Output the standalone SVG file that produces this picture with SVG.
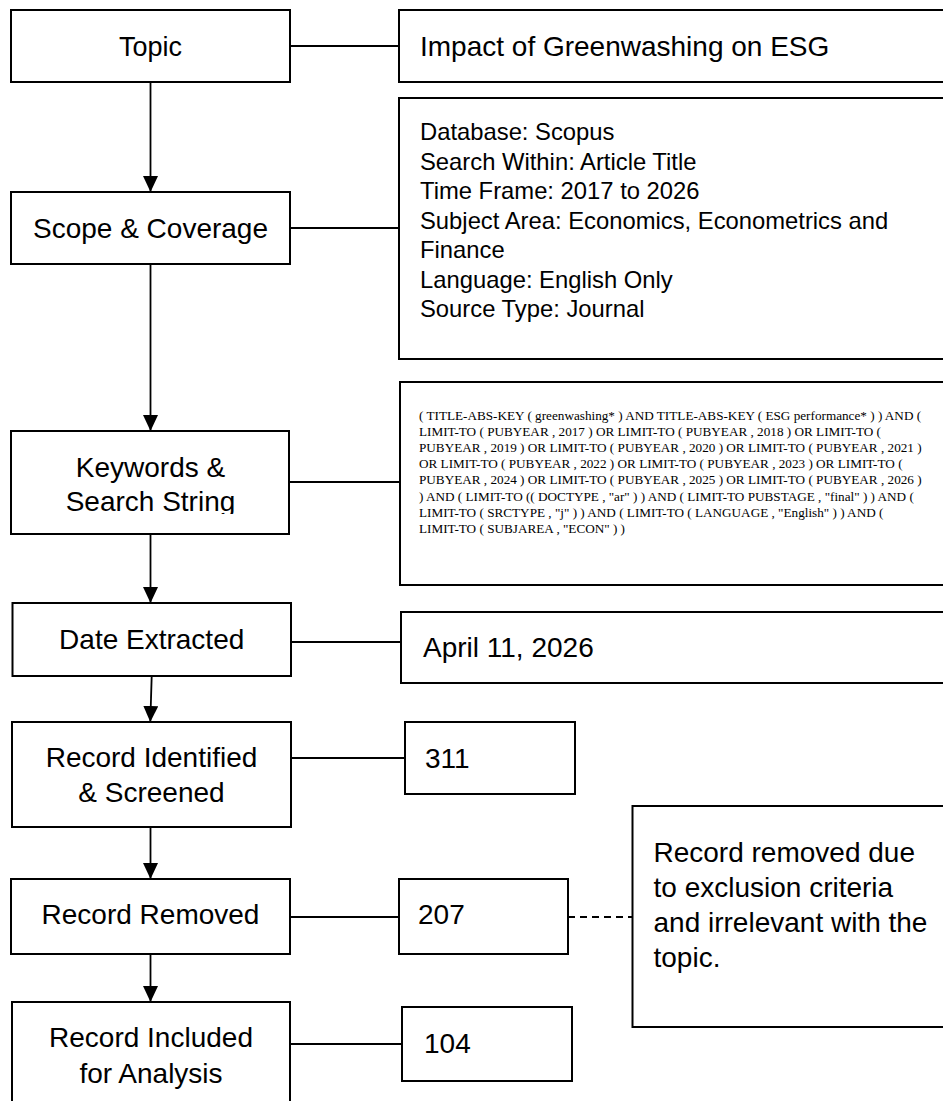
<svg xmlns="http://www.w3.org/2000/svg" width="943" height="1101" viewBox="0 0 943 1101">
<style>
  .box { fill: #ffffff; stroke: #000000; stroke-width: 2; }
  .lbl { font-family: "Liberation Sans", Arial, sans-serif; font-size: 28px; fill: #000000; }
  .mid { text-anchor: middle; }
  .det { font-family: "Liberation Sans", Arial, sans-serif; font-size: 23.8px; fill: #000000; }
  .qry { font-family: "Liberation Serif", "Times New Roman", serif; font-size: 13.2px; fill: #000000; }
  .conn { fill: none; stroke: #000000; stroke-width: 1.8; }
  .dash { stroke-dasharray: 7 5; }
</style>
<defs>
  <marker id="arrow" markerUnits="userSpaceOnUse" markerWidth="16" markerHeight="15" refX="16" refY="7.5" orient="auto">
    <path d="M0,0 L16,7.5 L0,15 z" fill="#000000"/>
  </marker>
  <clipPath id="kwclip">
    <rect x="12" y="432" width="276" height="82"/>
  </clipPath>
</defs>
<rect x="0" y="0" width="943" height="1101" fill="#ffffff"/>

<g id="connectors">
  <line class="conn" x1="150.5" y1="82" x2="150.5" y2="192" marker-end="url(#arrow)"/>
  <line class="conn" x1="150.5" y1="264" x2="150.5" y2="431" marker-end="url(#arrow)"/>
  <line class="conn" x1="150.5" y1="534" x2="150.5" y2="603" marker-end="url(#arrow)"/>
  <line class="conn" x1="151.7" y1="676" x2="150.3" y2="722" marker-end="url(#arrow)"/>
  <line class="conn" x1="150.5" y1="827" x2="150.5" y2="879" marker-end="url(#arrow)"/>
  <line class="conn" x1="150.5" y1="954" x2="150.5" y2="1002" marker-end="url(#arrow)"/>
  <line class="conn" x1="290" y1="46" x2="399" y2="46"/>
  <line class="conn" x1="290" y1="228" x2="399" y2="228"/>
  <line class="conn" x1="289" y1="482" x2="400" y2="482"/>
  <line class="conn" x1="291" y1="642" x2="401" y2="642"/>
  <line class="conn" x1="291" y1="758" x2="405" y2="758"/>
  <line class="conn" x1="290" y1="917" x2="399" y2="917"/>
  <line class="conn dash" x1="568" y1="917" x2="632.5" y2="917"/>
  <line class="conn" x1="290" y1="1044" x2="402" y2="1044"/>
</g>

<g id="topic">
  <rect class="box" x="11" y="10" width="279" height="72"/>
  <text class="lbl mid" x="150.5" y="56" style="font-size:27px">Topic</text>
</g>
<g id="topic-value">
  <rect class="box" x="399" y="10" width="560" height="72"/>
  <text class="lbl" x="420" y="56">Impact of Greenwashing on ESG</text>
</g>

<g id="scope">
  <rect class="box" x="11" y="192" width="279" height="72"/>
  <text class="lbl mid" x="150.5" y="238">Scope &amp; Coverage</text>
</g>
<g id="scope-value">
  <rect class="box" x="399" y="98" width="560" height="261"/>
  <text class="det" x="420" y="140">Database: Scopus</text>
  <text class="det" x="420" y="169.5">Search Within: Article Title</text>
  <text class="det" x="420" y="199">Time Frame: 2017 to 2026</text>
  <text class="det" x="420" y="228.5">Subject Area: Economics, Econometrics and</text>
  <text class="det" x="420" y="258">Finance</text>
  <text class="det" x="420" y="287.5">Language: English Only</text>
  <text class="det" x="420" y="317">Source Type: Journal</text>
</g>

<g id="keywords">
  <rect class="box" x="11" y="431" width="278" height="103"/>
  <g clip-path="url(#kwclip)">
    <text class="lbl mid" x="150.5" y="477">Keywords &amp;</text>
    <text class="lbl mid" x="150.5" y="511">Search String</text>
  </g>
</g>
<g id="search-string">
  <rect class="box" x="400" y="382" width="560" height="203"/>
  <text class="qry" x="419" y="420">( TITLE-ABS-KEY ( greenwashing* ) AND TITLE-ABS-KEY ( ESG performance* ) ) AND (</text>
  <text class="qry" x="419" y="436.1">LIMIT-TO ( PUBYEAR , 2017 ) OR LIMIT-TO ( PUBYEAR , 2018 ) OR LIMIT-TO (</text>
  <text class="qry" x="419" y="452.2">PUBYEAR , 2019 ) OR LIMIT-TO ( PUBYEAR , 2020 ) OR LIMIT-TO ( PUBYEAR , 2021 )</text>
  <text class="qry" x="419" y="468.3">OR LIMIT-TO ( PUBYEAR , 2022 ) OR LIMIT-TO ( PUBYEAR , 2023 ) OR LIMIT-TO (</text>
  <text class="qry" x="419" y="484.4">PUBYEAR , 2024 ) OR LIMIT-TO ( PUBYEAR , 2025 ) OR LIMIT-TO ( PUBYEAR , 2026 )</text>
  <text class="qry" x="419" y="500.5">) AND ( LIMIT-TO (( DOCTYPE , "ar" ) ) AND ( LIMIT-TO PUBSTAGE , "final" ) ) AND (</text>
  <text class="qry" x="419" y="516.6">LIMIT-TO ( SRCTYPE , "j" ) ) AND ( LIMIT-TO ( LANGUAGE , "English" ) ) AND (</text>
  <text class="qry" x="419" y="532.7">LIMIT-TO ( SUBJAREA , "ECON" ) )</text>
</g>

<g id="date">
  <rect class="box" x="12.5" y="603" width="278.5" height="73"/>
  <text class="lbl mid" x="151.7" y="649">Date Extracted</text>
</g>
<g id="date-value">
  <rect class="box" x="401" y="612" width="560" height="71"/>
  <text class="lbl" x="423" y="657">April 11, 2026</text>
</g>

<g id="identified">
  <rect class="box" x="12" y="722" width="279" height="105"/>
  <text class="lbl mid" x="151.5" y="767">Record Identified</text>
  <text class="lbl mid" x="151.5" y="802">&amp; Screened</text>
</g>
<g id="count-311">
  <rect class="box" x="405" y="722" width="170" height="72"/>
  <text class="lbl" x="425" y="768">311</text>
</g>

<g id="removed">
  <rect class="box" x="11" y="879" width="279" height="75"/>
  <text class="lbl mid" x="150.5" y="924">Record Removed</text>
</g>
<g id="count-207">
  <rect class="box" x="399" y="879" width="169" height="75"/>
  <text class="lbl" x="418" y="924">207</text>
</g>
<g id="removal-note">
  <rect class="box" x="632.5" y="806" width="330" height="221"/>
  <text class="lbl" x="653.5" y="862">Record removed due</text>
  <text class="lbl" x="653.5" y="897">to exclusion criteria</text>
  <text class="lbl" x="653.5" y="932">and irrelevant with the</text>
  <text class="lbl" x="653.5" y="967">topic.</text>
</g>

<g id="included">
  <rect class="box" x="12" y="1002" width="278" height="130"/>
  <text class="lbl mid" x="151" y="1047">Record Included</text>
  <text class="lbl mid" x="151" y="1083">for Analysis</text>
</g>
<g id="count-104">
  <rect class="box" x="402" y="1007" width="170" height="74"/>
  <text class="lbl" x="424" y="1053">104</text>
</g>
</svg>
